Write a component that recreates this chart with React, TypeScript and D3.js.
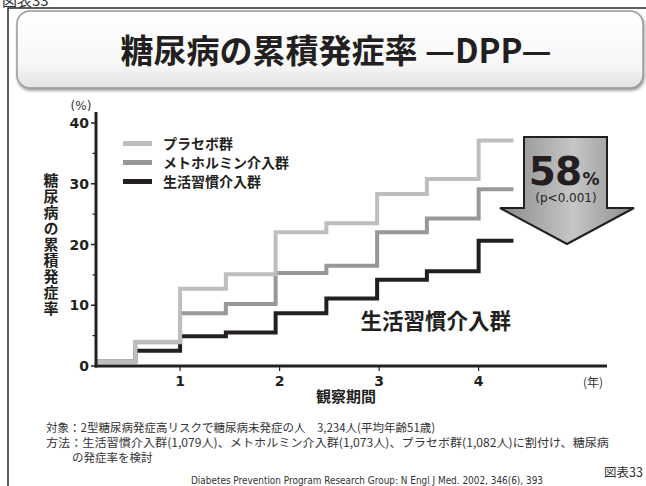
import React from "react";
import * as d3 from "d3";

const W = 646;
const H = 486;

// Cumulative incidence of diabetes (%) — step starts in years of follow-up
const years = [0.155, 0.55, 1.0, 1.46, 1.96, 2.47, 2.98, 3.48, 4.0];
const endYear = 4.35;
const placebo = [0.8, 4.0, 12.7, 15.1, 22.0, 23.5, 28.3, 30.8, 37.1];
const metformin = [0.8, 3.9, 8.7, 10.2, 15.3, 16.5, 22.0, 24.3, 29.1];
const lifestyle = [0.8, 2.5, 4.9, 5.5, 8.7, 11.1, 14.2, 15.6, 20.6];

const seriesNames = ["プラセボ群", "メトホルミン介入群", "生活習慣介入群"];
const seriesColors = ["#bebebe", "#989898", "#231f20"];
const seriesValues = [placebo, metformin, lifestyle];

const yTicks = [0, 10, 20, 30, 40];
const yMinorTicks = [5, 15, 25, 35];
const xTicks = [1, 2, 3, 4];

const yTitle = "糖尿病の累積発症率";

const JP = "'Noto Sans CJK JP', sans-serif";
const NUM = "'DejaVu Sans', Verdana, sans-serif";

export default function App() {
  const x = d3.scaleLinear().domain([0.155, 5.29]).range([96, 607]);
  const y = d3.scaleLinear().domain([0, 40]).range([366, 123]);

  const line = d3
    .line<[number, number]>()
    .x((d) => x(d[0]))
    .y((d) => y(d[1]))
    .curve(d3.curveStepAfter);

  const pathFor = (vals: number[]) => {
    const pts: [number, number][] = years.map((t, i) => [t, vals[i]]);
    pts.push([endYear, vals[vals.length - 1]]);
    return line(pts) ?? "";
  };

  // draw order: lifestyle underneath, placebo on top
  const drawOrder = [2, 1, 0];

  // arrow annotation geometry
  const aL = 524, aR = 607, aTop = 137, aShoulder = 208, hL = 500, hR = 634, tipY = 244;
  const tipX = (hL + hR) / 2;
  const arrowPath = `M${aL},${aTop} L${aR},${aTop} L${aR},${aShoulder} L${hR},${aShoulder} L${tipX},${tipY} L${hL},${aShoulder} L${aL},${aShoulder} Z`;

  return (
    <svg width={W} height={H} style={{ position: "absolute", left: 0, top: 0, background: "#fff" }}>
      <defs>
        <linearGradient id="titleFill" x1="0" y1="0" x2="0" y2="1">
          <stop offset="0" stopColor="#ffffff" />
          <stop offset="0.7" stopColor="#f7f7f7" />
          <stop offset="1" stopColor="#e2e2e2" />
        </linearGradient>
        <linearGradient id="arrowFill" x1="0" y1="0" x2="1" y2="0">
          <stop offset="0" stopColor="#8a8a8a" />
          <stop offset="0.55" stopColor="#c6c6c6" />
          <stop offset="1" stopColor="#8c8c8c" />
        </linearGradient>
        <filter id="titleShadow" x="-5%" y="-10%" width="110%" height="130%">
          <feDropShadow dx="1" dy="2" stdDeviation="1.5" floodColor="#555" floodOpacity="0.6" />
        </filter>
      </defs>

      {/* page label and frame */}
      <text x={2} y={6} fontFamily={JP} fontSize={15} fill="#333">図表33</text>
      <rect x={8} y={8} width={700} height={600} fill="none" stroke="#2b2b2b" strokeWidth={1.5} />

      {/* title banner */}
      <rect x={17} y={11} width={626} height={77} rx={13} ry={13} fill="url(#titleFill)" stroke="#9a9a9a" strokeWidth={1.5} filter="url(#titleShadow)" />
      <text x={336} y={63} textAnchor="middle" fontFamily={JP} fontWeight={700} fontSize={33} fill="#231f20">
        糖尿病の累積発症率 —DPP—
      </text>

      {/* y axis */}
      <text x={81} y={110} textAnchor="middle" fontFamily={NUM} fontSize={12} fill="#333">(%)</text>
      {yTicks.map((t) => (
        <g key={"yt" + t}>
          <line x1={91} x2={96} y1={y(t)} y2={y(t)} stroke="#231f20" strokeWidth={1.5} />
          <text x={89} y={y(t) + 5} textAnchor="end" fontFamily={NUM} fontWeight={700} fontSize={14} fill="#231f20">
            {t}
          </text>
        </g>
      ))}
      {yMinorTicks.map((t) => (
        <line key={"ym" + t} x1={92.5} x2={96} y1={y(t)} y2={y(t)} stroke="#231f20" strokeWidth={1.2} />
      ))}
      <text
        x={51}
        y={173}
        fontFamily={JP}
        fontWeight={700}
        fontSize={15}
        fill="#231f20"
        style={{ writingMode: "vertical-rl", letterSpacing: "1px" }}
      >
        {yTitle}
      </text>

      {/* x axis */}
      {xTicks.map((t) => (
        <g key={"xt" + t}>
          <line x1={x(t)} x2={x(t)} y1={366} y2={371} stroke="#231f20" strokeWidth={1.2} />
          <text x={x(t)} y={386} textAnchor="middle" fontFamily={NUM} fontWeight={700} fontSize={14} fill="#231f20">
            {t}
          </text>
        </g>
      ))}
      <text x={593} y={387} textAnchor="middle" fontFamily={JP} fontSize={12} fill="#333">(年)</text>
      <text x={346} y={402} textAnchor="middle" fontFamily={JP} fontWeight={700} fontSize={15} fill="#231f20">観察期間</text>

      {/* step curves */}
      {drawOrder.map((i) => (
        <path key={"s" + i} d={pathFor(seriesValues[i])} fill="none" stroke={seriesColors[i]} strokeWidth={4} />
      ))}

      {/* axis lines on top */}
      <line x1={96} x2={96} y1={112} y2={367.5} stroke="#231f20" strokeWidth={3} />
      <line x1={94.5} x2={607} y1={366} y2={366} stroke="#231f20" strokeWidth={3} />

      {/* legend */}
      {seriesNames.map((n, i) => (
        <g key={"lg" + i}>
          <line x1={123} x2={152} y1={143.5 + i * 19} y2={143.5 + i * 19} stroke={seriesColors[i]} strokeWidth={5} />
          <text x={163} y={148.5 + i * 19} fontFamily={JP} fontWeight={700} fontSize={14} fill="#231f20">
            {n}
          </text>
        </g>
      ))}

      {/* curve label */}
      <text x={511} y={329} textAnchor="end" fontFamily={JP} fontWeight={700} fontSize={21.5} fill="#231f20">
        生活習慣介入群
      </text>

      {/* risk reduction arrow */}
      <path d={arrowPath} fill="url(#arrowFill)" stroke="#231f20" strokeWidth={2} strokeLinejoin="miter" />
      <text x={555} y={185} textAnchor="middle" fontFamily={NUM} fontWeight={700} fontSize={39} fill="#231f20" letterSpacing={-1}>
        58
      </text>
      <text x={591} y={185} textAnchor="middle" fontFamily={NUM} fontWeight={700} fontSize={17} fill="#231f20">%</text>
      <text x={566} y={202} textAnchor="middle" fontFamily={NUM} fontSize={12} fill="#231f20">(p&lt;0.001)</text>

      {/* notes */}
      <text x={46} y={432} fontFamily={JP} fontSize={11.5} fill="#333">
        対象：2型糖尿病発症高リスクで糖尿病未発症の人　3,234人(平均年齢51歳)
      </text>
      <text x={46} y={447} fontFamily={JP} fontSize={11.5} fill="#333" textLength={563} lengthAdjust="spacingAndGlyphs">
        方法：生活習慣介入群(1,079人)、メトホルミン介入群(1,073人)、プラセボ群(1,082人)に割付け、糖尿病
      </text>
      <text x={72} y={462} fontFamily={JP} fontSize={11.5} fill="#333">の発症率を検討</text>
      <text x={191} y={484} fontFamily={NUM} fontSize={10} fill="#333" textLength={352} lengthAdjust="spacingAndGlyphs">
        Diabetes Prevention Program Research Group: N Engl J Med. 2002, 346(6), 393
      </text>
      <text x={604} y={477} fontFamily={JP} fontSize={12.5} fill="#333">図表33</text>
    </svg>
  );
}
